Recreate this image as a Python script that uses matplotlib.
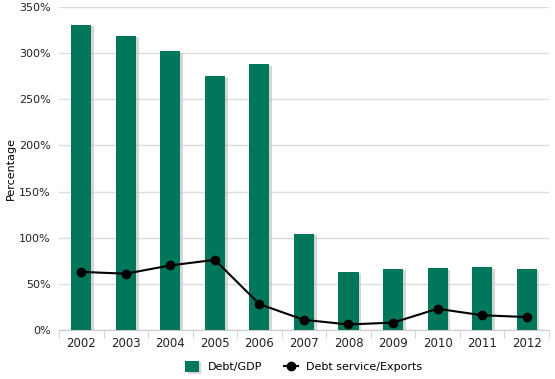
import matplotlib
matplotlib.use("Agg")
import matplotlib.pyplot as plt
import matplotlib.patheffects as pe
from matplotlib.ticker import FuncFormatter, FixedLocator

years = ["2002", "2003", "2004", "2005", "2006", "2007", "2008", "2009", "2010", "2011", "2012"]
debt_gdp = [331, 319, 302, 275, 288, 104, 63, 66, 67, 68, 66]
debt_service_exports = [63, 61, 70, 76, 28, 11, 6, 8, 23, 16, 14]

plt.rcParams["font.family"] = "DejaVu Sans"
plt.rcParams["font.size"] = 8

fig = plt.figure(figsize=(5.55, 3.79), dpi=100)
ax = fig.add_axes([0.1063, 0.1293, 0.8827, 0.8522])

x = list(range(len(years)))
bars = ax.bar(x, debt_gdp, width=0.45, color="#00765b", zorder=3, label="Debt/GDP")
for b in bars:
    b.set_path_effects([pe.SimplePatchShadow(offset=(2, -1), shadow_rgbFace="#bbbbbb", alpha=0.6), pe.Normal()])
line, = ax.plot(x, debt_service_exports, color="black", lw=1.5, marker="o", ms=6, zorder=4,
                label="Debt service/Exports")

ax.set_xlim(-0.5, len(years) - 0.5)
ax.set_ylim(0, 350)
ax.set_yticks(range(0, 351, 50))
ax.yaxis.set_major_formatter(FuncFormatter(lambda v, p: f"{int(v)}%"))
ax.set_xticks(x)
ax.set_xticklabels(years)
ax.xaxis.set_minor_locator(FixedLocator([i - 0.5 for i in range(len(years) + 1)]))
ax.tick_params(axis="x", which="major", length=0, pad=5, labelsize=8.5, colors="#222222")
ax.tick_params(axis="x", which="minor", length=6, color="#cccccc")
ax.tick_params(axis="y", length=0, pad=6, labelsize=8, colors="#222222")
ax.grid(axis="y", color="#dddddd", lw=1, zorder=0)
for s in ["left", "right", "top"]:
    ax.spines[s].set_visible(False)
ax.spines["bottom"].set_color("#cccccc")
ax.set_ylabel("Percentage", fontsize=8)
ax.yaxis.set_label_coords(-0.088, 0.5)

ax.legend(handles=[bars, line], loc="upper center", bbox_to_anchor=(0.5, -0.065), ncol=2,
          frameon=False, fontsize=8, handlelength=1.2, handleheight=1.2, columnspacing=2)

fig.savefig("out.png", dpi=100)
